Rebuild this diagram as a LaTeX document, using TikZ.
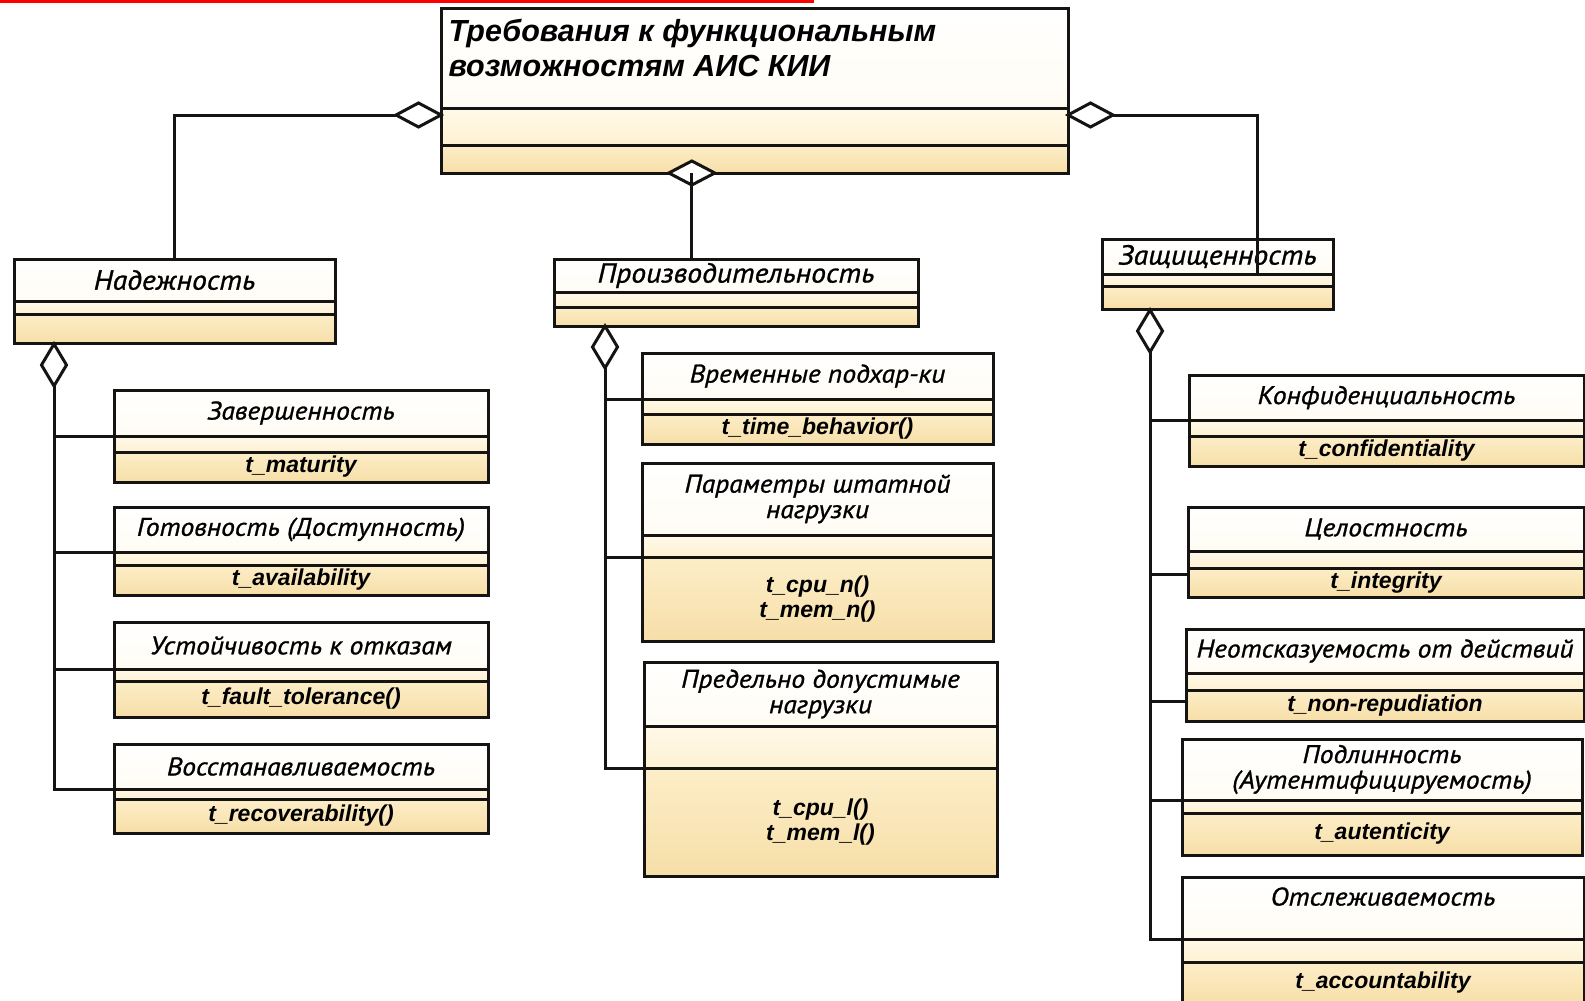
\documentclass[tikz,border=0pt]{standalone}
\usepackage{fontspec}
\setmainfont{Liberation Sans}
\newfontfamily\cursfont[FakeStretch=1.08, FakeBold=1]{PT Sans}
\usetikzlibrary{positioning,shapes.geometric,calc}

\definecolor{creamA}{RGB}{255,249,232}
\definecolor{creamB}{RGB}{253,238,200}
\definecolor{creamC}{RGB}{246,222,168}
\definecolor{umlline}{RGB}{22,20,18}

% class box: name, at, width, h-name, h-attr, h-ops, title, ops
\newcommand{\umlcls}[8]{%
  \node[clsname, anchor=north west, minimum width=#3pt, minimum height=#4pt] (#1) at (#2) {#7};
  \node[clsattr, below=0pt of #1, minimum width=#3pt, minimum height=#5pt] (#1-a) {};
  \node[clsops, below=0pt of #1-a, minimum width=#3pt, minimum height=#6pt] (#1-o) {#8};
}
\newcommand{\bigname}[1]{{\fontsize{27.5}{29}\selectfont #1}}

\begin{document}
\begin{tikzpicture}[x=1pt, y=-1pt,
    box/.style={draw=umlline, line width=3pt, inner sep=0pt, outer sep=0pt, align=center},
    clsname/.style={box, top color=white, bottom color=creamA!50,
      font=\cursfont\fontsize{25.5}{25.5}\selectfont\itshape},
    clsattr/.style={box, top color=creamA, bottom color=creamB!80},
    clsops/.style={box, top color=creamB, bottom color=creamC,
      font=\fontsize{23}{25}\selectfont\bfseries\itshape},
    agg/.style={diamond, draw=umlline, line width=3pt, fill=white, inner sep=0pt, outer sep=0pt},
    link/.style={draw=umlline, line width=3pt}]
\useasboundingbox (0,0) rectangle (1585,1001);
\clip (0,0) rectangle (1585,1001);
\fill[red] (0,0) rectangle (814,3);

% root
\node[clsname, anchor=north west, minimum width=627pt, minimum height=100pt] (top) at (441,8) {};
\node[clsattr, below=0pt of top, minimum width=627pt, minimum height=37pt] (top-a) {};
\node[clsops, below=0pt of top-a, minimum width=627pt, minimum height=28pt] (top-o) {};
\node[anchor=north west, align=left, font=\fontsize{30.5}{35}\selectfont\bfseries\itshape]
  (top-t) at ($(top.north west)+(4,8)$) {Требования к функциональным\\возможностям АИС КИИ};

% groups
\umlcls{nad}{14,259}{321}{42}{13}{29}{\bigname{Надежность}}{}
\umlcls{proiz}{554,259}{364}{33}{15}{19}{\bigname{Производительность}}{}
\umlcls{zasch}{1102,239}{231}{35}{12}{23}{\bigname{Защищенность}}{}

% reliability
\umlcls{zav}{114,390}{374}{46}{16}{30}{Завершенность}{t\_maturity}
\umlcls{got}{114,507}{374}{45}{13}{30}{Готовность (Доступность)}{t\_availability}
\umlcls{ust}{114,622}{374}{47}{12}{36}{Устойчивость к отказам}{t\_fault\_tolerance()}
\umlcls{vos}{114,744}{374}{45}{10}{34}{Восстанавливаемость}{t\_recoverability()}

% performance
\umlcls{vrem}{642,353}{351}{46}{15}{30}{Временные подхар-ки}{t\_time\_behavior()}
\umlcls{norm}{642,463}{351}{72}{22}{84}{Параметры штатной\\нагрузки}{t\_cpu\_n()\\t\_mem\_n()}
\umlcls{pred}{644,662}{353}{64}{42}{108}{Предельно допустимые\\нагрузки}{t\_cpu\_l()\\t\_mem\_l()}

% security
\umlcls{konf}{1189,375}{395}{45}{16}{30}{Конфиденциальность}{t\_confidentiality}
\umlcls{cel}{1188,507}{396}{44}{17}{29}{Целостность}{t\_integrity}
\umlcls{neot}{1186,629}{398}{44}{17}{31}{Неотсказуемость от действий}{t\_non-repudiation}
\umlcls{podl}{1182,739}{400}{61}{13}{42}{Подлинность\\(Аутентифицируемость)}{t\_autenticity}
\umlcls{otsl}{1182,877}{402}{62}{23}{42}{\raisebox{2.5pt}[0pt][0pt]{Отслеживаемость}}{t\_accountability}

% aggregation diamonds
\node[agg, minimum width=45pt, minimum height=24pt] (dtl) at ($(top.south west)+(-22.5,7)$) {};
\node[agg, minimum width=45pt, minimum height=24pt] (dtr) at ($(top.south east)+(22.5,7)$) {};
\node[agg, minimum width=46pt, minimum height=24pt] (dtb) at ($(top-o.south west)!.4!(top-o.south east)$) {};
\node[agg, minimum width=25pt, minimum height=42pt] (dnad) at ($(nad-o.south west)+(40,22)$) {};
\node[agg, minimum width=25pt, minimum height=42pt] (dpro) at ($(proiz-o.south west)+(51,21)$) {};
\node[agg, minimum width=25pt, minimum height=42pt] (dzas) at ($(zasch-o.south west)+(48,22)$) {};
\coordinate (zin) at ($(zasch.south west)!.675!(zasch.south east)$);

% links to root
\draw[link] (dtl.west) -| (nad.north);
\draw[link] (dtr.east) -| (zin);
\draw[link] (dtb.center) -- (dtb.center |- proiz.north);

% links to parts
\draw[link] (dnad.south) |- (vos.south west);
\foreach \c in {zav,got,ust}
  \draw[link] (\c.south west) -- (\c.south west -| dnad.south);
\draw[link] (dpro.south) |- (pred-a.south west);
\draw[link] (vrem.south west) -- (vrem.south west -| dpro.south);
\draw[link] (norm-a.south west) -- (norm-a.south west -| dpro.south);
\draw[link] (dzas.south) |- (otsl.south west);
\foreach \c in {konf,podl}
  \draw[link] (\c.south west) -- (\c.south west -| dzas.south);
\draw[link] ([yshift=-6pt]cel-a.south west) -- ([yshift=-6pt]cel-a.south west -| dzas.south);
\draw[link] ([yshift=-11pt]neot-a.south west) -- ([yshift=-11pt]neot-a.south west -| dzas.south);
\end{tikzpicture}
\end{document}
